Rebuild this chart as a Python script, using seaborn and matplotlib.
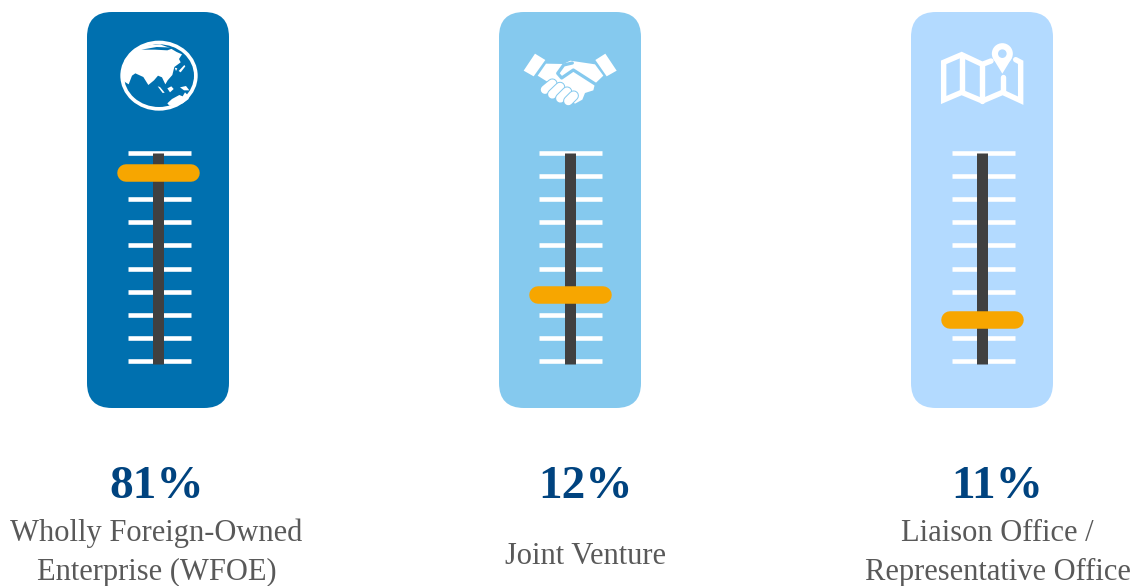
import numpy as np
import pandas as pd
import matplotlib
matplotlib.use("Agg")
import matplotlib.pyplot as plt
from matplotlib.patches import FancyBboxPatch, Ellipse, Polygon, Circle
import seaborn as sns

# Market-entry vehicles and their shares
percent_labels = ["81%", "12%", "11%"]
share_values = [81, 12, 11]
entry_names = ["Wholly Foreign-Owned\nEnterprise (WFOE)", "Joint Venture",
               "Liaison Office /\nRepresentative Office"]
panel_colors = ["#0070AF", "#85C9EE", "#B3DAFF"]

# The gauges run on a non-linear dial: percent -> notch number
dial_percent = [-30, 0, 11, 12, 81, 100, 130]
dial_notch = [-2.5, 0, 1.77, 2.86, 8.14, 9, 16]
notches = list(range(10))

W, H = 1141, 586
PANEL_TOP, PANEL_BOTTOM, PANEL_W = 12, 408, 142
panel_lefts = [87, 499, 911]
track_centers = [158, 570, 982]
notch_centers = [159, 570.5, 983]
label_centers = [156.5, 585.5, 997.5]
NOTCH_PX = 23.11
NOTCH0_Y = 361


def to_notch(p):
    return np.interp(p, dial_percent, dial_notch)


def to_percent(n):
    return np.interp(n, dial_notch, dial_percent)


sns.set_theme(style="white")
plt.rcParams["font.family"] = ["Liberation Serif", "DejaVu Serif"]

fig = plt.figure(figsize=(W / 100, H / 100), dpi=100)
px = 72 / fig.dpi

# Background layer in pixel units: panels, icons, captions
bg = fig.add_axes([0, 0, 1, 1])
bg.set_xlim(0, W)
bg.set_ylim(H, 0)
bg.axis("off")

for left, color in zip(panel_lefts, panel_colors):
    r = 25
    bg.add_patch(FancyBboxPatch((left + r, PANEL_TOP + r), PANEL_W - 2 * r,
                                PANEL_BOTTOM - PANEL_TOP - 2 * r,
                                boxstyle=f"round,pad={r},rounding_size={r}",
                                fc=color, ec="none"))


def draw_globe(ax, ox, oy, sea):
    ax.add_patch(Ellipse((ox + 237 / 3, oy + 212 / 3), 232 / 3, 210 / 3, fc="white", ec="none"))
    ax.add_patch(Ellipse((ox + 237 / 3, oy + 212 / 3), 210 / 3, 188 / 3, fc=sea, ec="none"))
    shapes = [
        [(124, 205), (134, 165), (160, 135), (190, 122), (240, 118), (268, 128), (290, 141), (306, 148),
         (297, 162), (302, 172), (283, 186), (277, 210), (263, 226), (256, 238), (246, 217),
         (234, 212), (222, 226), (205, 240), (190, 216), (166, 205), (156, 212), (146, 238),
         (130, 228)],
        [(296, 198), (313, 180), (316, 184), (302, 202)],
        [(284, 188), (292, 190), (288, 198)],
        [(233, 244), (240, 246), (254, 263), (248, 264)],
        [(262, 250), (274, 244), (281, 252), (270, 262)],
        [(300, 247), (318, 243), (328, 256), (312, 256)],
        [(262, 295), (276, 282), (298, 270), (308, 274), (315, 262), (325, 272), (326, 282),
         (306, 296), (282, 302), (268, 302)],
    ]
    for pts in shapes:
        ax.add_patch(Polygon([(ox + x / 3, oy + y / 3) for x, y in pts], fc="white", ec="none"))
    ax.add_patch(Polygon([(ox + x / 3, oy + y / 3) for x, y in
                          [(184, 134), (230, 126), (284, 128), (262, 136), (225, 134)]], fc=sea, ec="none"))


def draw_handshake(ax, ox, oy, sky):
    p = lambda pts: [(ox + x / 3, oy + y / 3) for x, y in pts]
    for pts in ([(120, 146), (151, 165), (116, 214), (86, 197)],
                [(331, 146), (365, 197), (335, 214), (301, 165)],
                [(153, 176), (205, 177), (226, 167), (300, 178), (325, 212), (300, 236), (295, 256),
                 (270, 264), (262, 284), (240, 296), (205, 270), (160, 232), (128, 212)]):
        ax.add_patch(Polygon(p(pts), fc="white", ec="none"))
    for a, b in [((150, 254), (172, 236)), ((172, 268), (195, 246)),
                 ((196, 280), (216, 260)), ((220, 288), (236, 272))]:
        (x0, y0), (x1, y1) = p([a, b])
        ax.plot([x0, x1], [y0, y1], color=sky, lw=10.5 * px, solid_capstyle="round")
        ax.plot([x0, x1], [y0, y1], color="white", lw=8.5 * px, solid_capstyle="round")
    thumb = p([(232, 174), (206, 180), (188, 205), (200, 219), (235, 195), (302, 238)])
    ax.plot(*zip(*thumb), color=sky, lw=3.2 * px, solid_joinstyle="round")


def draw_map(ax, ox, oy, sky):
    p = lambda pts: [(ox + x / 3, oy + y / 3) for x, y in pts]
    lw = 5.4 * px
    outline = p([(258, 168), (232, 178), (170, 149), (116, 172), (116, 285), (170, 262),
                 (232, 288), (293, 262), (347, 287), (347, 172), (332, 164)])
    ax.plot(*zip(*outline), color="white", lw=lw, solid_joinstyle="miter")
    for a, b in [((170, 149), (170, 262)), ((232, 178), (232, 288)), ((293, 215), (293, 262))]:
        ax.plot(*zip(*p([a, b])), color="white", lw=lw)
    cx, cy = p([(292, 146)])[0]
    ax.add_patch(Circle((cx, cy), 10.5, fc="white", ec="none"))
    ax.add_patch(Polygon(p([(264, 160), (320, 160), (292, 206)]), fc="white", ec="none"))
    ax.add_patch(Circle((cx, cy), 4.3, fc=sky, ec="none"))


draw_globe(bg, 80, 5, panel_colors[0])
draw_handshake(bg, 495, 5, panel_colors[1])
draw_map(bg, 905, 5, panel_colors[2])

# Captions under each gauge
for i, (cx, pct, name) in enumerate(zip(label_centers, percent_labels, entry_names)):
    pct_x = [157, 586, 997][i]
    bg.text(pct_x, 498, pct, ha="center", va="baseline", fontsize=34, fontweight="bold",
            color="#00437F")
    if "\n" in name:
        top, bottom = name.split("\n")
        bg.text(cx, 541, top, ha="center", va="baseline", fontsize=22, color="#595959")
        bg.text(cx, 580, bottom, ha="center", va="baseline", fontsize=22, color="#595959")
    else:
        bg.text(cx, 564, name, ha="center", va="baseline", fontsize=22, color="#595959")

# One slider gauge per entry vehicle, on the shared dial scale
for left, tc, nc, share in zip(panel_lefts, track_centers, notch_centers, share_values):
    ax = fig.add_axes([left / W, 1 - PANEL_BOTTOM / H, PANEL_W / W, (PANEL_BOTTOM - PANEL_TOP) / H])
    ax.patch.set_alpha(0)
    ax.set_yscale("function", functions=(to_notch, to_percent))
    notch_levels = to_percent(np.array(notches, dtype=float))
    ax.hlines(notch_levels, nc - tc - 31.5, nc - tc + 31.5, color="white", lw=4.6 * px, zorder=1)

    track_bottom = to_percent(-3 / NOTCH_PX)
    track = pd.DataFrame({"x": [0, 0], "y": [track_bottom, 100]})
    sns.lineplot(data=track, x="x", y="y", ax=ax, color="#404040", lw=11 * px, sort=False,
                 estimator=None, solid_capstyle="butt", zorder=2)

    handle = pd.DataFrame({"x": [-32.5, 32.5], "y": [share, share]})
    sns.lineplot(data=handle, x="x", y="y", ax=ax, color="#F7A600", lw=17.5 * px, sort=False,
                 estimator=None, solid_capstyle="round", zorder=3)

    ax.set_xlim(left - tc, left + PANEL_W - tc)
    ax.set_ylim(to_percent((NOTCH0_Y - PANEL_BOTTOM) / NOTCH_PX),
                to_percent((NOTCH0_Y - PANEL_TOP) / NOTCH_PX))
    ax.axis("off")

fig.savefig("out.png", dpi=100, facecolor="white")
